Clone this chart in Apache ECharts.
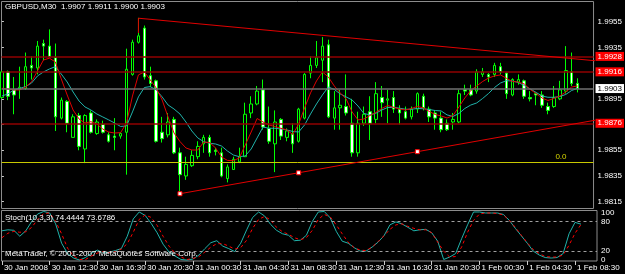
<!DOCTYPE html>
<html><head><meta charset="utf-8">
<script src="https://cdn.jsdelivr.net/npm/echarts@6/dist/echarts.min.js"></script>
<style>html,body{margin:0;padding:0;background:#000;}#c{width:625px;height:274px;}</style>
</head><body><div id="c"></div>
<script>
const symbolName = 'GBPUSD,M30';
// bar index 0 = 30 Jan 2008 08:30, M30 bars
const opens = [1.9896,1.9916,1.9902,1.9903,1.9903,1.9921,1.9919,1.9938,1.9936,1.9927,
1.9880,1.9893,1.9865,1.9882,1.9856,1.9884,1.9868,1.9875,1.9867,1.9866,
1.9866,1.9869,1.9914,1.9939,1.9950,1.9913,1.9909,1.9869,1.9867,1.9879,
1.9853,1.9835,1.9843,1.9850,1.9860,1.9865,1.9855,1.9853,1.9833,1.9840,
1.9846,1.9850,1.9884,1.9891,1.9902,1.9872,1.9860,1.9879,1.9865,1.9868,
1.9862,1.9880,1.9915,1.9921,1.9925,1.9937,1.9880,1.9888,1.9889,1.9876,
1.9853,1.9876,1.9885,1.9879,1.9896,1.9894,1.9896,1.9887,1.9885,1.9881,
1.9887,1.9897,1.9887,1.9884,1.9880,1.9876,1.9877,1.9877,1.9902,1.9902,
1.9901,1.9914,1.9914,1.9914,1.9920,1.9915,1.9898,1.9908,1.9909,1.9896,
1.9899,1.9898,1.9889,1.9889,1.9895,1.9901,1.9916,1.9907];
const highs = [1.9917,1.9917,1.9912,1.9920,1.9931,1.9928,1.9940,1.9941,1.9949,1.9938,
1.9896,1.9894,1.9883,1.9884,1.9883,1.9886,1.9879,1.9878,1.9869,1.9880,
1.9869,1.9934,1.9941,1.9958,1.9952,1.9920,1.9910,1.9881,1.9884,1.9881,
1.9857,1.9850,1.9855,1.9862,1.9867,1.9867,1.9857,1.9857,1.9844,1.9850,
1.9857,1.9892,1.9897,1.9905,1.9910,1.9889,1.9886,1.9880,1.9872,1.9876,
1.9888,1.9915,1.9928,1.9940,1.9943,1.9941,1.9901,1.9902,1.9914,1.9895,
1.9885,1.9889,1.9897,1.9908,1.9905,1.9902,1.9901,1.9890,1.9889,1.9889,
1.9900,1.9899,1.9889,1.9886,1.9885,1.9879,1.9884,1.9902,1.9906,1.9906,
1.9918,1.9919,1.9915,1.9923,1.9923,1.9916,1.9911,1.9914,1.9910,1.9901,
1.9900,1.9901,1.9892,1.9905,1.9909,1.9936,1.9931,1.9911];
const lows = [1.9895,1.9894,1.9883,1.9895,1.9902,1.9910,1.9914,1.9925,1.9927,1.9870,
1.9879,1.9869,1.9865,1.9855,1.9845,1.9868,1.9867,1.9868,1.9861,1.9855,
1.9864,1.9836,1.9913,1.9938,1.9910,1.9904,1.9861,1.9861,1.9865,1.9852,
1.9821,1.9832,1.9842,1.9848,1.9853,1.9850,1.9851,1.9834,1.9830,1.9840,
1.9845,1.9850,1.9880,1.9890,1.9871,1.9860,1.9838,1.9863,1.9862,1.9853,
1.9861,1.9879,1.9911,1.9919,1.9908,1.9880,1.9871,1.9871,1.9882,1.9850,
1.9850,1.9874,1.9863,1.9876,1.9881,1.9876,1.9884,1.9875,1.9879,1.9879,
1.9884,1.9886,1.9877,1.9871,1.9869,1.9870,1.9871,1.9876,1.9898,1.9897,
1.9899,1.9912,1.9908,1.9912,1.9914,1.9895,1.9897,1.9906,1.9895,1.9893,
1.9890,1.9888,1.9883,1.9888,1.9894,1.9899,1.9905,1.9900];
const closes = [1.9916,1.9897,1.9898,1.9904,1.9920,1.9919,1.9936,1.9936,1.9928,1.9881,
1.9894,1.9876,1.9881,1.9858,1.9882,1.9869,1.9877,1.9869,1.9862,1.9865,
1.9868,1.9918,1.9939,1.9944,1.9912,1.9907,1.9862,1.9864,1.9877,1.9853,
1.9836,1.9844,1.9851,1.9858,1.9865,1.9853,1.9854,1.9835,1.9842,1.9848,
1.9850,1.9883,1.9891,1.9901,1.9873,1.9862,1.9877,1.9866,1.9870,1.9860,
1.9887,1.9914,1.9921,1.9927,1.9936,1.9881,1.9888,1.9890,1.9884,1.9853,
1.9876,1.9883,1.9876,1.9899,1.9892,1.9895,1.9887,1.9884,1.9880,1.9887,
1.9899,1.9888,1.9881,1.9880,1.9871,1.9871,1.9879,1.9899,1.9901,1.9898,
1.9916,1.9916,1.9912,1.9921,1.9916,1.9899,1.9910,1.9910,1.9897,1.9895,
1.9898,1.9890,1.9886,1.9896,1.9902,1.9917,1.9907,1.9903];
const maFast = [1.99032,1.99027,1.99019,1.99019,1.99042,1.99083,1.99167,1.99252,1.99266,1.99237,
1.99105,1.98980,1.98863,1.98793,1.98762,1.98772,1.98754,1.98715,1.98692,1.98684,
1.98687,1.98762,1.98972,1.99136,1.99159,1.99097,1.99034,1.98941,1.98809,1.98684,
1.98618,1.98568,1.98552,1.98552,1.98614,1.98610,1.98568,1.98498,1.98471,1.98469,
1.98490,1.98591,1.98692,1.98797,1.98770,1.98747,1.98734,1.98721,1.98708,1.98673,
1.98754,1.98879,1.98996,1.99089,1.99159,1.99120,1.99050,1.98996,1.98949,1.98848,
1.98786,1.98793,1.98820,1.98844,1.98875,1.98898,1.98884,1.98871,1.98863,1.98875,
1.98891,1.98879,1.98852,1.98828,1.98817,1.98801,1.98820,1.98887,1.98957,1.99015,
1.99050,1.99085,1.99112,1.99128,1.99136,1.99110,1.99085,1.99081,1.99066,1.99023,
1.98992,1.98957,1.98937,1.98953,1.98972,1.99003,1.99042,1.99050];
const maSlow = [1.98972,1.98988,1.99019,1.99031,1.99045,1.99073,1.99128,1.99159,1.99182,1.99200,
1.99143,1.99081,1.99003,1.98933,1.98887,1.98863,1.98832,1.98809,1.98786,1.98762,
1.98735,1.98739,1.98848,1.98965,1.99038,1.99045,1.99019,1.98965,1.98902,1.98871,
1.98832,1.98770,1.98700,1.98646,1.98617,1.98604,1.98599,1.98583,1.98544,1.98513,
1.98500,1.98506,1.98560,1.98646,1.98731,1.98721,1.98721,1.98716,1.98708,1.98696,
1.98692,1.98747,1.98832,1.98910,1.98980,1.99042,1.99023,1.98988,1.98965,1.98941,
1.98894,1.98836,1.98825,1.98838,1.98863,1.98883,1.98884,1.98877,1.98869,1.98869,
1.98875,1.98873,1.98867,1.98859,1.98856,1.98825,1.98813,1.98836,1.98875,1.98902,
1.98918,1.98953,1.98992,1.99038,1.99073,1.99091,1.99089,1.99077,1.99054,1.99027,
1.99000,1.98972,1.98962,1.98962,1.98968,1.98984,1.99015,1.99032];
const stochMain = [61,63,62,50,61,80,95,100,97,75,
36,15,6,2,7,16,22,16,18,21,
25,50,85,99,92,76,57,34,18,10,
3,2,4,12,25,37,41,30,25,19,
36,63,88,99,91,74,62,55,52,41,
42,52,80,99,100,87,60,40,36,27,
20,20,28,38,51,73,79,75,68,61,
63,64,57,40,3,8,15,45,73,99,
99,97,97,97,94,82,66,51,36,20,
12,7,6,7,15,55,78,74.4444];
const stochSignal = [47,56,60,58,59,68,84,96,97,80,
55,26,10,3,3,10,16,19,17,19,
24,35,58,84,93,88,72,50,30,16,
8,3,5,9,18,28,35,35,30,24,
27,42,66,84,90,83,68,59,54,47,
43,47,62,84,94,89,73,55,38,27,
22,21,28,39,51,64,73,75,70,66,
63,63,57,38,20,8,9,28,58,82,
95,97,97,96,93,82,68,52,37,23,
15,9,8,8,12,32,56,73.6786];
const priceTicks = [1.9815,1.9835,1.9855,1.9875,1.9895,1.9915,1.9935,1.9955];
const stochTicks = [0,20,80,100];
const stochLevels = [20,80];
const timeLabelBars = [0,8,16,24,32,40,48,56,64,72,80,88,96];
const timeLabels = ['30 Jan 2008','30 Jan 12:30','30 Jan 16:30','30 Jan 20:30','31 Jan 00:30','31 Jan 04:30','31 Jan 08:30','31 Jan 12:30','31 Jan 16:30','31 Jan 20:30','1 Feb 00:30','1 Feb 04:30','1 Feb 08:30'];
const levelPrices = [1.9928,1.9916,1.9876];
const bidPrice = 1.9903;
const fiboPrice = 1.9846;
const fiboLabel = '0.0';
const upperTrendBars = [23,23,100];
const upperTrendPrices = [1.99462,1.99577,1.99246];
const lowerTrendBars = [30,50,70,100];
const lowerTrendPrices = [1.98212,1.98375,1.98539,1.98784];
const lowerTrendAnchorCount = 3;
const copyrightText = 'MetaTrader, © 2001-2007 MetaQuotes Software Corp.';

const FONT = '"Liberation Sans Narrow","Liberation Sans",Arial,sans-serif';
const GRAY = '#8c8c8c';
const xMin = -0.067, xMax = 99.68;
const last = closes.length - 1;
const titleText = symbolName + '  ' + [opens[last], highs[last], lows[last], closes[last]].map(v => v.toFixed(4)).join(' ');
const stochText = 'Stoch(10,3,3) ' + stochMain[last].toFixed(4) + ' ' + stochSignal[last].toFixed(4);
const txt = (extra) => Object.assign({color:'#ffffff', fontSize:8, fontWeight:'normal', fontFamily:FONT}, extra || {});

const candleData = opens.map((o, i) => [i, o, closes[i], lows[i], highs[i]]);
const levelLabel = (bg, fg) => ({show:true, position:'end', distance:2, formatter: p => Number(p.value).toFixed(4),
  backgroundColor:bg, color:fg, fontSize:8, lineHeight:8, padding:[1,2,0,2], fontFamily:FONT});

const chart = echarts.init(document.getElementById('c'));
chart.setOption({
  backgroundColor:'#000000',
  animation:false,
  textStyle:{fontFamily:FONT},
  title:[
    {text:titleText, left:5, top:3, padding:0, textStyle:txt()},
    {text:stochText, left:5, top:214, padding:0, textStyle:txt()},
    {text:copyrightText, left:5, top:250, padding:0, textStyle:txt()}
  ],
  grid:[
    {left:1.5, top:1.5, width:595.5, height:207, show:true, borderColor:GRAY, borderWidth:1, backgroundColor:'transparent'},
    {left:1.5, top:210.5, width:595.5, height:50.5, show:true, borderColor:GRAY, borderWidth:1, backgroundColor:'transparent'}
  ],
  xAxis:[
    {type:'value', gridIndex:0, min:xMin, max:xMax, show:false},
    {type:'value', gridIndex:1, min:xMin, max:xMax, splitLine:{show:false}, axisLine:{show:false},
     axisTick:{show:true, customValues:timeLabelBars, length:4, lineStyle:{color:'#cccccc'}},
     axisLabel:{customValues:timeLabelBars, formatter:v => timeLabels[timeLabelBars.indexOf(v)] || '',
       color:'#ffffff', fontSize:8, fontFamily:FONT, align:'left', margin:3, padding:[0,0,0,2]}}
  ],
  yAxis:[
    {type:'value', gridIndex:0, position:'right', min:1.98097, max:1.99707,
     splitLine:{show:false}, axisLine:{show:false},
     axisTick:{show:true, customValues:priceTicks, length:2, lineStyle:{color:'#cccccc'}},
     axisLabel:{customValues:priceTicks, formatter:v => v.toFixed(4), color:'#ffffff', fontSize:8, fontFamily:FONT, margin:4, align:'left'}},
    {type:'value', gridIndex:1, position:'right', min:0, max:102,
     splitLine:{show:false}, axisLine:{show:false},
     axisTick:{show:false},
     axisLabel:{customValues:stochTicks, hideOverlap:false,
       formatter:v => v === 100 ? '{hi|100}' : (v === 0 ? '{lo|0}' : String(v)),
       rich:{hi:{padding:[2,0,0,0], lineHeight:8, color:'#ffffff', fontSize:8}, lo:{padding:[0,0,2,0], lineHeight:8, color:'#ffffff', fontSize:8}},
       color:'#ffffff', fontSize:8, lineHeight:8, fontFamily:FONT, margin:4, align:'left'}}
  ],
  series:[
    {type:'candlestick', xAxisIndex:0, yAxisIndex:0, data:candleData, encode:{x:0, y:[1,2,3,4]},
     barWidth:3, z:2,
     itemStyle:{color:'#000000', color0:'#ffffff', borderColor:'#00ff00', borderColor0:'#00ff00', borderColorDoji:'#00ff00', borderWidth:1}},
    {type:'line', xAxisIndex:0, yAxisIndex:0, data:maSlow.map((v, i) => [i, v]), symbol:'none', z:3,
     lineStyle:{color:'#20b2aa', width:1}},
    {type:'line', xAxisIndex:0, yAxisIndex:0, data:maFast.map((v, i) => [i, v]), symbol:'none', z:3,
     lineStyle:{color:'#e00000', width:1},
     markLine:{silent:true, symbol:['none','none'], animation:false, precision:5,
       data:[
         ...levelPrices.map(p => ({yAxis:p, lineStyle:{color:'#900000', width:1.5, type:'solid'}, label:levelLabel('#ff0000', '#ffffff')})),
         {yAxis:bidPrice, lineStyle:{color:'#707070', width:1.5, type:'solid'}, label:levelLabel('#ffffff', '#000000')},
         {yAxis:fiboPrice, lineStyle:{color:'#c8c800', width:1, type:'solid'},
          label:{show:true, position:'insideEndTop', distance:1, formatter:fiboLabel, color:'#d8d800', fontSize:8, fontFamily:FONT, padding:[0,26,0,0]}}
       ]}},
    {type:'line', xAxisIndex:0, yAxisIndex:0, data:upperTrendBars.map((b, i) => [b, upperTrendPrices[i]]), symbol:'none', z:5,
     lineStyle:{color:'#e00000', width:1}},
    {type:'line', xAxisIndex:0, yAxisIndex:0, z:5, showAllSymbol:true,
     data:lowerTrendBars.map((b, i) => ({value:[b, lowerTrendPrices[i]], symbol: i < lowerTrendAnchorCount ? 'rect' : 'none'})),
     symbolSize:4, itemStyle:{color:'#ffffff', borderColor:'#ff0000', borderWidth:1},
     lineStyle:{color:'#e00000', width:1}},
    {type:'line', xAxisIndex:1, yAxisIndex:1, data:stochMain.map((v, i) => [i, v]), symbol:'none', z:3,
     lineStyle:{color:'#20b2aa', width:1},
     markLine:{silent:true, symbol:['none','none'], animation:false, label:{show:false},
       lineStyle:{color:'#a0a0a0', width:1, type:[3,3]}, data:stochLevels.map(v => ({yAxis:v}))}},
    {type:'line', xAxisIndex:1, yAxisIndex:1, data:stochSignal.map((v, i) => [i, v]), symbol:'none', z:3,
     lineStyle:{color:'#ff0000', width:1, type:[3,3]}}
  ]
});
</script></body></html>
